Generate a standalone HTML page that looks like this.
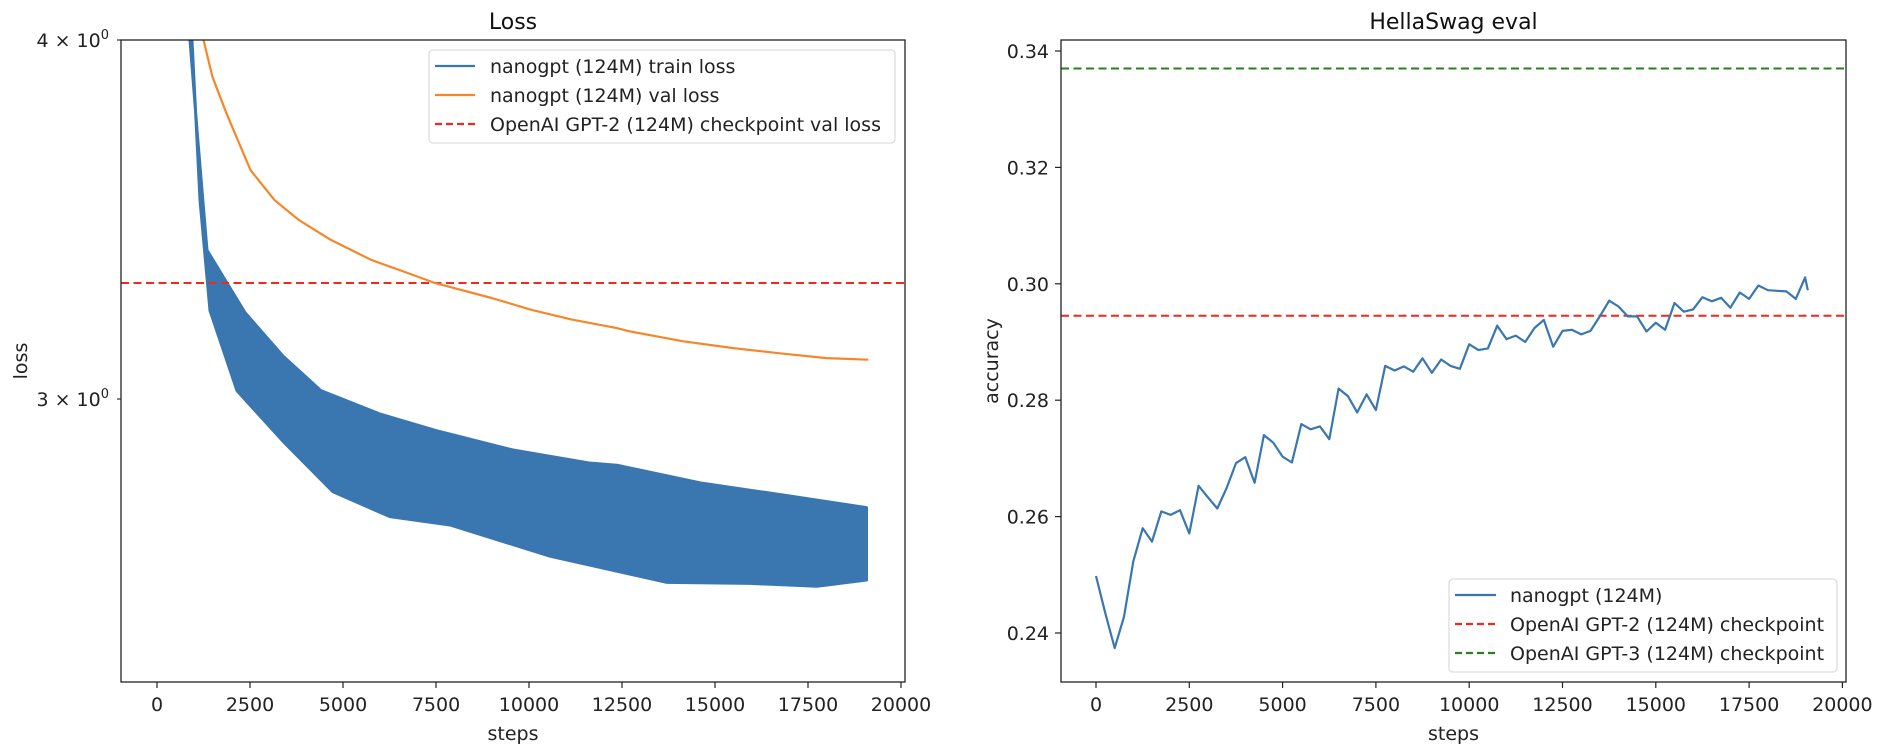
<!DOCTYPE html>
<html><head><meta charset="utf-8"><style>
html,body{margin:0;padding:0;background:#fff;}
svg{display:block;font-family:"DejaVu Sans","Liberation Sans",sans-serif;}
</style></head><body>
<svg id="fig" width="1880" height="750" viewBox="0 0 1880 750">
<rect x="0" y="0" width="1880" height="750" fill="#fff"/>
<g id="left"></g>
<g id="right"></g>
</svg>
<script>
// ---- Loss chart data ----
const valSteps = [1250,1489,1866,2513,3161,3809,4675,5753,6618,7481,8995,10075,11153,12341,12715,14148,15492,16836,18003,19121];
const valLoss  = [4.0,3.884,3.772,3.604,3.518,3.463,3.408,3.354,3.323,3.292,3.253,3.222,3.197,3.176,3.167,3.142,3.125,3.111,3.100,3.096];
const trainUpperSteps = [887,1075,1344,2366,3387,4409,5968,7500,9570,11613,12366,14597,16828,19073];
const trainUpper      = [4.0,3.722,3.380,3.215,3.105,3.020,2.965,2.925,2.880,2.850,2.845,2.805,2.778,2.750];
const trainLowerSteps = [940,1156,1425,2151,3387,4731,6263,7876,10565,13710,15941,17742,19073];
const trainLower      = [4.0,3.518,3.220,3.020,2.900,2.785,2.730,2.712,2.645,2.590,2.588,2.582,2.595];
const gpt2ValLoss = 3.2924;
const lossXTicks = [0,2500,5000,7500,10000,12500,15000,17500,20000];
const lossYTicks = [3,4];
const lossYTickLabels = ["3","4"];
// ---- HellaSwag data ----
const hsAcc = [0.2498,0.2434,0.2374,0.2428,0.2523,0.2580,0.2557,0.2609,0.2603,0.2611,0.2571,0.2653,0.2633,0.2614,0.2649,0.2692,0.2702,0.2658,0.2740,0.2727,0.2703,0.2693,0.2759,0.2750,0.2755,0.2733,0.2820,0.2807,0.2779,0.2810,0.2783,0.2859,0.2851,0.2858,0.2849,0.2872,0.2847,0.2870,0.2859,0.2854,0.2896,0.2886,0.2889,0.2928,0.2905,0.2911,0.2900,0.2924,0.2938,0.2892,0.2919,0.2921,0.2913,0.2919,0.2944,0.2971,0.2961,0.2944,0.2944,0.2918,0.2933,0.2921,0.2967,0.2952,0.2956,0.2977,0.2970,0.2976,0.2959,0.2985,0.2974,0.2997,0.2989,0.2988,0.2987,0.2974,0.3011,0.2989];
const hsSteps = hsAcc.map((v,i)=> i < hsAcc.length-1 ? i*250 : 19072);
const gpt2Hs = 0.2945;
const gpt3Hs = 0.3370;
const hsXTicks = [0,2500,5000,7500,10000,12500,15000,17500,20000];
const hsYTicks = [0.24,0.26,0.28,0.30,0.32,0.34];

const NS="http://www.w3.org/2000/svg";
const FS=19, FT=22;
function mk(parent, tag, attrs, text){
  const e=document.createElementNS(NS,tag);
  for(const k in attrs) e.setAttribute(k,attrs[k]);
  if(text!==undefined) e.textContent=text;
  parent.appendChild(e); return e;
}
const BLUE="#3a76af", ORANGE="#f5872a", RED="#f0281e", GREEN="#2a7f1e";

// ===== Left: Loss =====
const L={x0:121,x1:905,y0:40,y1:682};
const lx = s => 157 + s*(93.0/2500);
const ly = v => 40 + (Math.log10(4) - Math.log10(v))*2873.5;
const left=document.getElementById('left');
const clipL=mk(left,'clipPath',{id:'clipL'});
mk(clipL,'rect',{x:L.x0,y:L.y0,width:L.x1-L.x0,height:L.y1-L.y0});
const plotL=mk(left,'g',{'clip-path':'url(#clipL)'});
let d='M'+trainUpperSteps.map((s,i)=>lx(s).toFixed(1)+','+ly(trainUpper[i]).toFixed(1)).join('L');
for(let i=trainLowerSteps.length-1;i>=0;i--) d+='L'+lx(trainLowerSteps[i]).toFixed(1)+','+ly(trainLower[i]).toFixed(1);
d+='Z';
const band=mk(plotL,'path',{d:d,fill:BLUE,stroke:BLUE,'stroke-width':3,'stroke-linejoin':'round'});


mk(plotL,'path',{d:'M'+lx(700)+','+(L.y0-5)+'L'+lx(trainUpperSteps[0])+','+ly(trainUpper[0]),stroke:BLUE,'stroke-width':3,fill:'none'});
const rl=mk(plotL,'line',{x1:L.x0,x2:L.x1,y1:ly(gpt2ValLoss),y2:ly(gpt2ValLoss),stroke:RED,'stroke-width':2,'stroke-dasharray':'8,4.5'});


const vl=mk(plotL,'polyline',{points:valSteps.map((s,i)=>lx(s).toFixed(1)+','+ly(valLoss[i]).toFixed(1)).join(' '),fill:'none',stroke:ORANGE,'stroke-width':2.2,'stroke-linejoin':'round'});


mk(left,'rect',{x:L.x0,y:L.y0,width:L.x1-L.x0,height:L.y1-L.y0,fill:'none',stroke:'#222','stroke-width':1.3});
lossXTicks.forEach(t=>{
  const x=lx(t);
  mk(left,'line',{x1:x,x2:x,y1:L.y1,y2:L.y1+6,stroke:'#222','stroke-width':1.2});
  const tl=mk(left,'text',{x:x,y:L.y1+29,'text-anchor':'middle','font-size':FS,fill:'#222'},String(t));
  
  
});
lossYTicks.forEach((t,i)=>{
  const y=ly(t);
  mk(left,'line',{x1:L.x0-4,x2:L.x0,y1:y,y2:y,stroke:'#222','stroke-width':1.1});
  const tl=mk(left,'text',{x:L.x0-12,y:y+7,'text-anchor':'end','font-size':FS,fill:'#222'});
  
  
  tl.innerHTML=lossYTickLabels[i]+' × 10<tspan dy="-8" font-size="13">0</tspan>';
});
let t1=mk(left,'text',{x:(L.x0+L.x1)/2,y:29,'text-anchor':'middle','font-size':FT,fill:'#111'},'Loss');

let xl1=mk(left,'text',{x:(L.x0+L.x1)/2,y:740,'text-anchor':'middle','font-size':FS,fill:'#222'},'steps');

let yl1=mk(left,'text',{x:0,y:0,transform:'translate(27,'+((L.y0+L.y1)/2)+') rotate(-90)','text-anchor':'middle','font-size':FS,fill:'#222'},'loss');

const lg=mk(left,'g',{});


mk(lg,'rect',{x:429,y:50,width:466,height:93,rx:4,fill:'#fff','fill-opacity':0.85,stroke:'#ddd','stroke-width':1.3});
[['nanogpt (124M) train loss',BLUE,null],['nanogpt (124M) val loss',ORANGE,null],['OpenAI GPT-2 (124M) checkpoint val loss',RED,'7,4']].forEach((e,i)=>{
  const y=66+i*29;
  const le=mk(lg,'g',{});
  
  
  const a={x1:435,x2:475,y1:y,y2:y,stroke:e[1],'stroke-width':2.2};
  if(e[2]) a['stroke-dasharray']=e[2];
  mk(le,'line',a);
  mk(le,'text',{x:490,y:y+7,'font-size':FS,fill:'#222'},e[0]);
});

// ===== Right: HellaSwag =====
const R={x0:1061,x1:1846,y0:40,y1:682};
const rx = s => 1096 + s*(93.3/2500);
const ry = v => 51 + (0.34 - v)/0.02*116.4;
const right=document.getElementById('right');
const g3=mk(right,'line',{x1:R.x0,x2:R.x1,y1:ry(gpt3Hs),y2:ry(gpt3Hs),stroke:GREEN,'stroke-width':2,'stroke-dasharray':'8,4.5'});

const g2=mk(right,'line',{x1:R.x0,x2:R.x1,y1:ry(gpt2Hs),y2:ry(gpt2Hs),stroke:RED,'stroke-width':2,'stroke-dasharray':'8,4.5'});

const hs=mk(right,'polyline',{points:hsSteps.map((s,i)=>rx(s).toFixed(1)+','+ry(hsAcc[i]).toFixed(1)).join(' '),fill:'none',stroke:BLUE,'stroke-width':2.2,'stroke-linejoin':'round'});

mk(right,'rect',{x:R.x0,y:R.y0,width:R.x1-R.x0,height:R.y1-R.y0,fill:'none',stroke:'#222','stroke-width':1.3});
hsXTicks.forEach(t=>{
  const x=rx(t);
  mk(right,'line',{x1:x,x2:x,y1:R.y1,y2:R.y1+6,stroke:'#222','stroke-width':1.2});
  const tl=mk(right,'text',{x:x,y:R.y1+29,'text-anchor':'middle','font-size':FS,fill:'#222'},String(t));
  
  
});
hsYTicks.forEach(t=>{
  const y=ry(t);
  mk(right,'line',{x1:R.x0-6,x2:R.x0,y1:y,y2:y,stroke:'#222','stroke-width':1.2});
  const tl=mk(right,'text',{x:R.x0-12,y:y+7,'text-anchor':'end','font-size':FS,fill:'#222'},t.toFixed(2));
  
  
});
let t2=mk(right,'text',{x:(R.x0+R.x1)/2,y:29,'text-anchor':'middle','font-size':FT,fill:'#111'},'HellaSwag eval');

let xl2=mk(right,'text',{x:(R.x0+R.x1)/2,y:740,'text-anchor':'middle','font-size':FS,fill:'#222'},'steps');

let yl2=mk(right,'text',{x:0,y:0,transform:'translate(998,'+((R.y0+R.y1)/2)+') rotate(-90)','text-anchor':'middle','font-size':FS,fill:'#222'},'accuracy');

const lg2=mk(right,'g',{});


mk(lg2,'rect',{x:1449,y:579,width:388,height:93,rx:4,fill:'#fff','fill-opacity':0.85,stroke:'#ddd','stroke-width':1.3});
[['nanogpt (124M)',BLUE,null],['OpenAI GPT-2 (124M) checkpoint',RED,'7,4'],['OpenAI GPT-3 (124M) checkpoint',GREEN,'7,4']].forEach((e,i)=>{
  const y=595+i*29;
  const le=mk(lg2,'g',{});
  
  
  const a={x1:1455,x2:1496,y1:y,y2:y,stroke:e[1],'stroke-width':2.2};
  if(e[2]) a['stroke-dasharray']=e[2];
  mk(le,'line',a);
  mk(le,'text',{x:1510,y:y+7,'font-size':FS,fill:'#222'},e[0]);
});
</script>
</body></html>
